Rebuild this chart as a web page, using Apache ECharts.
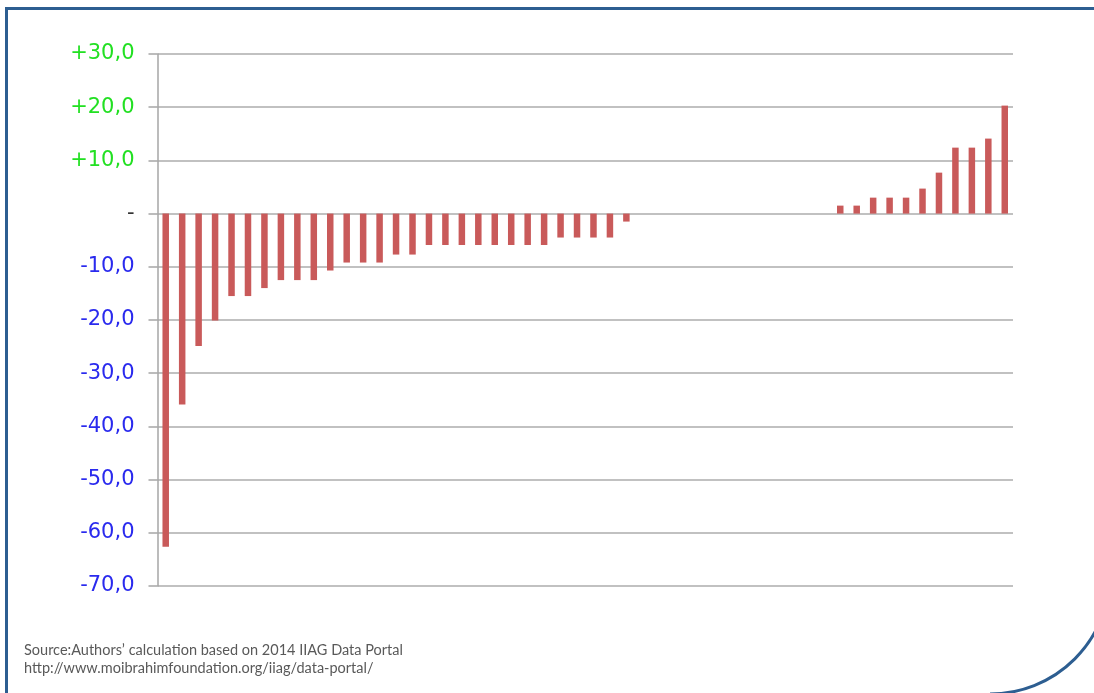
<!DOCTYPE html>
<html>
<head>
<meta charset="utf-8">
<script src="https://cdn.jsdelivr.net/npm/echarts@6/dist/echarts.min.js"></script>
<style>
  html, body { margin: 0; padding: 0; background: #ffffff; }
  #chart { width: 1094px; height: 693px; }
</style>
</head>
<body>
<div id="chart"></div>
<script>
// Change in score per country (52 countries), sorted from largest fall to largest rise
const countries = Array.from({ length: 52 }, (_, i) => 'C' + (i + 1));
const changes = [
  -62.6, -35.9, -24.9, -20.1, -15.5, -15.5, -14.0, -12.5, -12.5, -12.5,
  -10.7, -9.2, -9.2, -9.2, -7.7, -7.7, -5.9, -5.9, -5.9, -5.9,
  -5.9, -5.9, -5.9, -5.9, -4.5, -4.5, -4.5, -4.5, -1.5,
  0, 0, 0, 0, 0, 0, 0, 0, 0, 0, 0, 0,
  1.5, 1.5, 3.0, 3.0, 3.0, 4.7, 7.7, 12.4, 12.4, 14.1, 20.3
];
const yTicks = { min: -70, max: 30, step: 10 };
const sourceLines = [
  'Source:Authors\u2019 calculation based on 2014 IIAG Data Portal',
  'http://www.moibrahimfoundation.org/iiag/data-portal/'
];

function tickText(v) {
  if (v === 0) return '-';
  const s = Math.abs(v).toFixed(1).replace('.', ',');
  return (v > 0 ? '+' : '-') + s;
}
function tickColor(v) {
  const n = Number(v);
  if (n > 0) return '#22e022';
  if (n < 0) return '#2a2aee';
  return '#333333';
}

const frameColor = '#2d5e91';

const chart = echarts.init(document.getElementById('chart'), null, { renderer: 'canvas' });
chart.setOption({
  animation: false,
  backgroundColor: '#ffffff',
  grid: { left: 157.5, right: 81, top: 54, bottom: 107, containLabel: false },
  xAxis: {
    type: 'category',
    data: countries,
    axisLine: { show: false },
    axisTick: { show: false },
    axisLabel: { show: false },
    splitLine: { show: false }
  },
  yAxis: {
    type: 'value',
    min: yTicks.min,
    max: yTicks.max,
    interval: yTicks.step,
    axisLine: { show: true, lineStyle: { color: '#a6a6a6', width: 1.5 } },
    axisTick: { show: true, inside: false, length: 9, lineStyle: { color: '#a6a6a6', width: 1.5 } },
    axisLabel: {
      margin: 23,
      fontFamily: 'DejaVu Sans',
      fontSize: 21,
      formatter: tickText,
      color: tickColor
    },
    splitLine: { show: true, lineStyle: { color: '#acacac', width: 1.5 } }
  },
  series: [{
    type: 'bar',
    data: changes,
    barWidth: 6.5,
    itemStyle: { color: '#c95a5a' }
  }],
  graphic: [
    {
      type: 'polyline',
      shape: { points: [[6.5, 700], [6.5, 8.5], [1110, 8.5]] },
      style: { fill: null, stroke: frameColor, lineWidth: 3 },
      silent: true
    },
    {
      type: 'arc',
      shape: { cx: 990, cy: 574, r: 120, startAngle: 0, endAngle: Math.PI / 2 },
      style: { fill: null, stroke: frameColor, lineWidth: 3 },
      silent: true
    },
    {
      type: 'text',
      left: 24,
      top: 642,
      style: {
        text: sourceLines.join('\n'),
        fill: '#595959',
        font: '14.5px Lato',
        lineHeight: 17.5
      },
      silent: true
    }
  ]
});
</script>
</body>
</html>
